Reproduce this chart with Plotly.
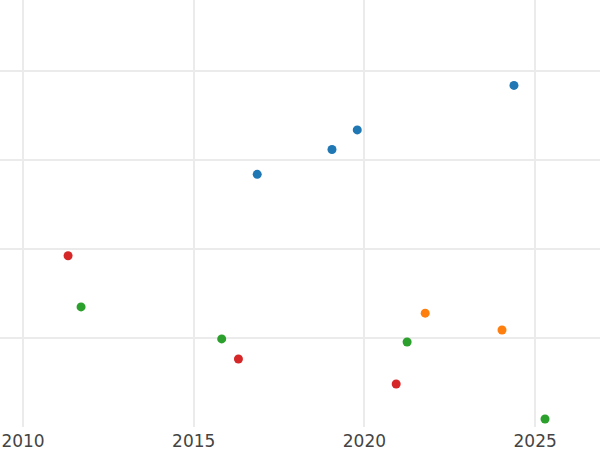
import plotly.graph_objects as go

blue_x = [2016.86, 2019.05, 2019.79, 2024.38]
blue_y = [2.84, 3.12, 3.34, 3.84]
orange_x = [2021.78, 2024.03]
orange_y = [1.28, 1.09]
green_x = [2011.70, 2015.82, 2021.25, 2025.29]
green_y = [1.35, 0.99, 0.955, 0.09]
red_x = [2011.32, 2016.31, 2020.93]
red_y = [1.925, 0.764, 0.483]

x_ticks = [2010, 2015, 2020, 2025]

fig = go.Figure()
for xs, ys, c in [(blue_x, blue_y, "#1f77b4"), (orange_x, orange_y, "#ff7f0e"),
                  (green_x, green_y, "#2ca02c"), (red_x, red_y, "#d62728")]:
    fig.add_trace(go.Scatter(x=xs, y=ys, mode="markers",
                             marker=dict(color=c, size=9, line=dict(width=0)),
                             showlegend=False))

fig.update_layout(
    width=600, height=450,
    margin=dict(l=0, r=0, t=0, b=23),
    paper_bgcolor="white", plot_bgcolor="white",
    font=dict(family="DejaVu Sans", size=17, color="#444"),
)
fig.update_xaxes(range=[2009.326, 2026.9], tickvals=x_ticks, showgrid=True,
                 gridcolor="#ebebeb", gridwidth=1.5, zeroline=False, showline=False,
                 ticks="", automargin=False, ticklabelstandoff=2)
fig.update_yaxes(range=[0, 4.8], dtick=1, showgrid=True, gridcolor="#ebebeb",
                 gridwidth=1.5, zeroline=False, showline=False, showticklabels=False,
                 automargin=False)

fig.write_html("out.html", config={"displayModeBar": False},
               post_script="document.body.style.margin='0';document.body.style.overflow='hidden';")
